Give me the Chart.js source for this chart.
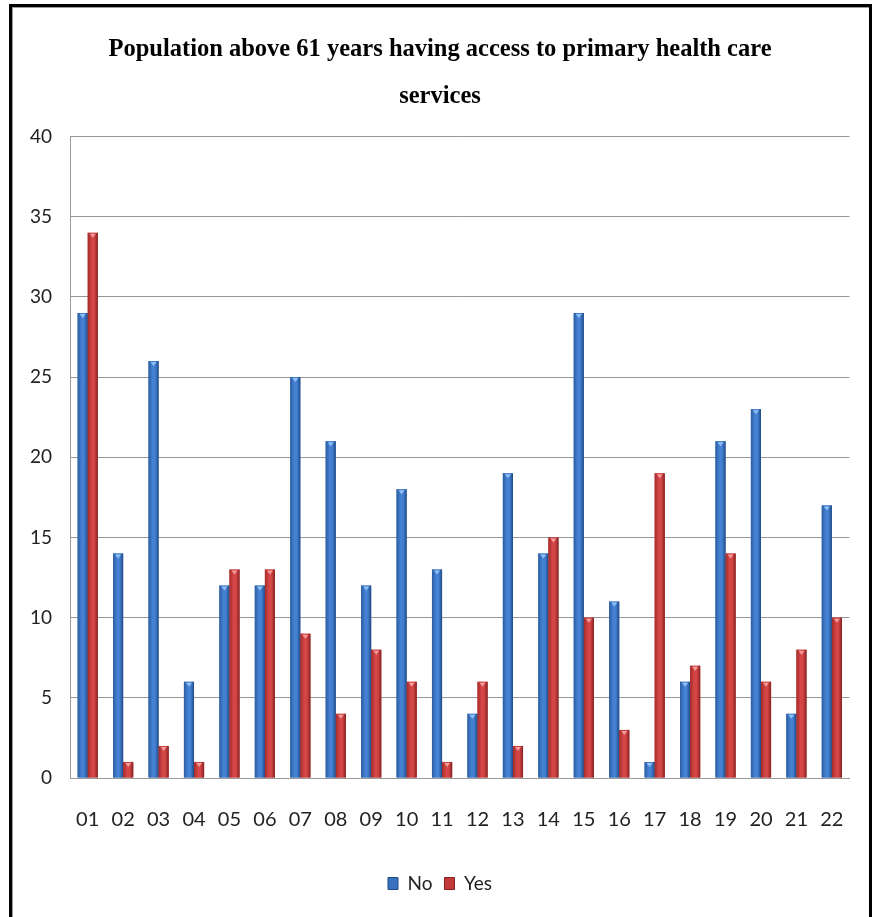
<!DOCTYPE html>
<html>
<head>
<meta charset="utf-8">
<script src="https://cdn.jsdelivr.net/npm/chart.js@4"></script>
<style>
  html, body { margin: 0; padding: 0; background: #fff; }
  #wrap { position: relative; width: 874px; height: 917px; overflow: hidden; }
  #frame {
    position: absolute; left: 9px; top: 4px; width: 857px; height: 940px;
    border: 3px solid #000; border-bottom: none;
    box-shadow: inset 1px 1px 0 #9a9a9a;
    pointer-events: none;
  }
  canvas { position: absolute; left: 0; top: 0; }
</style>
</head>
<body>
<div id="wrap">
  <canvas id="chart1" width="874" height="917"></canvas>
  <div id="frame"></div>
</div>
<script>
// 지역 번호
const labels = ['01','02','03','04','05','06','07','08','09','10','11','12','13','14','15','16','17','18','19','20','21','22'];
const noData  = [29, 14, 26, 6, 12, 12, 25, 21, 12, 18, 13, 4, 19, 14, 29, 11, 1, 6, 21, 23, 4, 17];
const yesData = [34, 1, 2, 1, 13, 13, 9, 4, 8, 6, 1, 6, 2, 15, 10, 3, 19, 7, 14, 6, 8, 10];
const yTicks = [0, 5, 10, 15, 20, 25, 30, 35, 40];

const tickFont = "Lato, 'Liberation Sans', sans-serif";

// 막대 입체감 (좌우 그라데이션 + 윗면 삼각형)
const shades = {
    0: { edgeL: '#2c5c9f', mid: '#4581d3', edgeR: '#1f4a86', tip: '#8fc0f5' },
    1: { edgeL: '#a42a2a', mid: '#d44646', edgeR: '#862020', tip: '#f59a9a' }
};
const bevelBars = {
    id: 'bevelBars',
    afterDatasetsDraw(chart){
        const ctx = chart.ctx;
        chart.data.datasets.forEach((ds, di) => {
            const meta = chart.getDatasetMeta(di);
            const s = shades[di];
            meta.data.forEach((bar) => {
                const p = bar.getProps(['x','y','base','width'], true);
                const l = p.x - p.width/2, r = p.x + p.width/2;
                const g = ctx.createLinearGradient(l, 0, r, 0);
                g.addColorStop(0, s.edgeL);
                g.addColorStop(0.4, s.mid);
                g.addColorStop(0.65, s.mid);
                g.addColorStop(1, s.edgeR);
                ctx.save();
                ctx.fillStyle = g;
                ctx.fillRect(l, p.y, p.width, p.base - p.y);
                // 윗면 작은 삼각형
                ctx.fillStyle = s.tip;
                ctx.beginPath();
                ctx.moveTo(l + 2, p.y + 1);
                ctx.lineTo(r - 2, p.y + 1);
                ctx.lineTo(p.x, p.y + 5);
                ctx.closePath();
                ctx.fill();
                ctx.restore();
            });
        });
    }
};

const chart = new Chart(document.getElementById('chart1').getContext('2d'), {
    type: 'bar',
    data: {
        labels: labels,
        datasets: [
            { label: 'No', data: noData, backgroundColor: '#3a72c0' },
            { label: 'Yes', data: yesData, backgroundColor: '#c23a3a' }
        ]
    },
    options: {
        responsive: false,
        animation: false,
        datasets: { bar: { categoryPercentage: 0.57, barPercentage: 1.0 } },
        layout: { padding: { left: 30, right: 24, top: 26, bottom: 14 } },
        scales: {
            y: {
                min: 0, max: 40,
                afterBuildTicks: (axis) => { axis.ticks = yTicks.map(v => ({ value: v })); },
                afterFit: (axis) => { axis.width = 40; },
                grid: { color: '#969696', lineWidth: 1, drawTicks: false },
                border: { color: '#9a9a9a' },
                ticks: { padding: 18, color: '#222', font: { family: tickFont, size: 19 } }
            },
            x: {
                grid: { display: false, drawTicks: false },
                border: { color: '#9a9a9a' },
                ticks: { padding: 30, color: '#222', font: { family: tickFont, size: 20 } }
            }
        },
        plugins: {
            title: {
                display: true,
                text: ['Population above 61 years having access to primary health care', 'services'],
                color: '#000',
                font: { family: "'Liberation Serif', 'DejaVu Serif', serif", size: 24.5, weight: 'bold', lineHeight: 1.93 },
                padding: { top: 0, bottom: 16 }
            },
            legend: {
                position: 'bottom',
                labels: {
                    boxWidth: 10, boxHeight: 12,
                    padding: 12,
                    color: '#222',
                    font: { family: tickFont, size: 19 },
                    generateLabels: (c) => c.data.datasets.map((ds, i) => ({
                        text: ds.label,
                        fillStyle: ds.backgroundColor,
                        strokeStyle: shades[i].edgeR,
                        lineWidth: 1,
                        fontColor: '#222',
                        datasetIndex: i
                    }))
                }
            },
            tooltip: { enabled: false }
        }
    },
    plugins: [bevelBars]
});
</script>
</body>
</html>
